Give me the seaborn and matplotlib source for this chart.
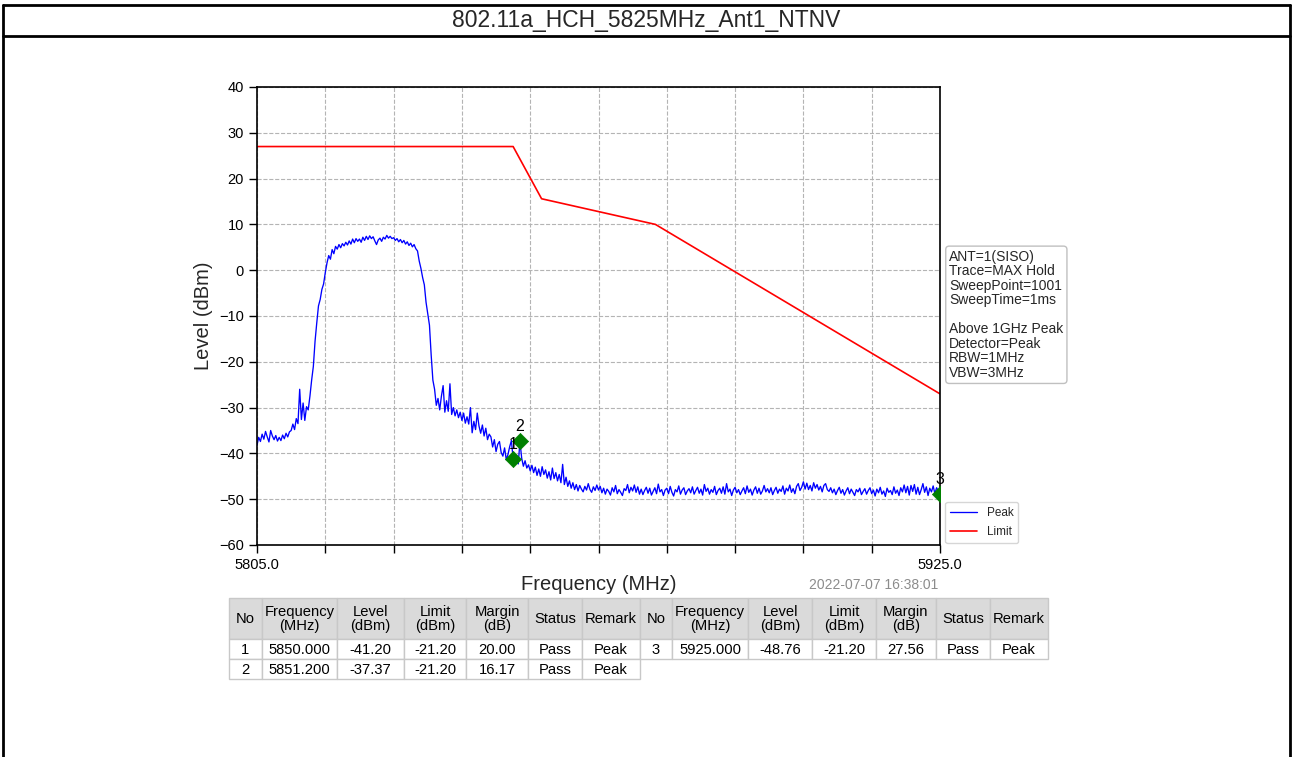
import numpy as np
import matplotlib
matplotlib.use("Agg")
import matplotlib.pyplot as plt
import seaborn as sns
from matplotlib.patches import Rectangle

# ---------------------------------------------------------------- data
title = "802.11a_HCH_5825MHz_Ant1_NTNV"
timestamp = "2022-07-07 16:38:01"

f_start, f_stop = 5805.0, 5925.0

# Max-hold peak trace, 0.3 MHz per sweep point (dBm)
peak_level = [
    -38.2, -36.5, -37.4, -35.8, -36.9, -35.2, -36.4, -37.5, -35.0, -36.2, -37.0, -36.1, -37.3, -36.5, -37.2, -36.0, -36.8, -35.6, -36.4, -35.3,
    -35.0, -33.6, -34.8, -32.4, -33.5, -26.0, -32.6, -29.0, -32.8, -29.8, -30.5, -27.5, -24.0, -21.0, -15.5, -11.5, -7.8, -6.4, -4.2, -3.0,
    -0.5, 1.6, 3.2, 2.4, 4.5, 3.6, 5.2, 4.6, 5.6, 4.9, 5.8, 5.3, 6.1, 5.5, 6.4, 5.7, 6.8, 6.0, 6.9, 6.3,
    6.8, 6.1, 7.2, 6.5, 7.4, 6.7, 7.5, 6.9, 7.3, 6.4, 5.6, 6.6, 7.0, 6.3, 7.2, 6.8, 7.6, 7.0, 7.4, 6.9,
    7.1, 6.5, 6.9, 6.2, 6.7, 6.0, 6.5, 5.7, 6.2, 5.4, 5.9, 5.1, 5.6, 4.7, 4.2, 2.0, 0.4, -1.6, -3.2, -7.0,
    -9.5, -12.0, -18.5, -24.0, -26.0, -29.5, -28.0, -30.5, -27.5, -25.2, -31.0, -28.5, -30.8, -24.8, -31.5, -30.0, -31.8, -30.5, -32.2, -31.0,
    -32.8, -31.2, -33.4, -32.0, -33.6, -30.0, -35.5, -33.0, -34.8, -31.2, -34.0, -35.6, -33.8, -36.2, -34.5, -37.0, -35.8, -36.4, -38.6, -37.0,
    -39.6, -38.0, -37.4, -39.8, -40.6, -38.8, -41.4, -40.2, -38.5, -37.2, -41.2, -42.0, -40.4, -42.3, -37.37, -41.0, -42.8, -41.6, -43.2, -42.5,
    -43.8, -42.6, -44.2, -43.0, -44.8, -43.4, -45.0, -42.9, -44.6, -43.6, -45.4, -44.0, -45.8, -43.2, -45.5, -44.2, -46.0, -44.6, -46.4, -42.4,
    -46.8, -45.2, -47.2, -46.0, -47.6, -46.4, -47.9, -46.8, -48.2, -47.0, -47.8, -48.4, -47.2, -48.0, -46.6, -47.9, -48.5, -47.3, -48.1, -46.9,
    -48.0, -47.2, -48.6, -47.6, -48.9, -47.8, -48.3, -49.1, -47.5, -48.4, -47.0, -48.8, -47.9, -48.5, -49.2, -47.7, -48.1, -46.8, -48.6, -47.4,
    -48.2, -46.9, -48.5, -47.3, -48.9, -47.8, -49.0, -48.1, -47.4, -48.7, -47.6, -49.1, -48.3, -47.5, -48.8, -46.7, -48.4, -47.9, -49.2, -48.0,
    -47.6, -48.8, -47.2, -48.5, -49.3, -47.9, -48.4, -47.1, -48.9, -48.0, -47.5, -49.0, -48.2, -47.7, -48.6, -47.3, -48.9, -48.1, -47.4, -48.7,
    -47.8, -49.1, -46.8, -48.3, -47.6, -48.9, -47.9, -48.5, -47.2, -49.0, -48.1, -47.6, -48.7, -47.3, -48.9, -46.6, -48.4, -47.8, -49.2, -48.0,
    -47.4, -48.6, -47.9, -49.0, -48.2, -47.5, -48.8, -47.1, -48.5, -47.8, -49.1, -48.0, -47.3, -48.7, -47.6, -48.9, -48.2, -47.0, -48.4, -47.7,
    -48.6, -47.5, -49.0, -48.1, -47.4, -48.7, -47.8, -48.3, -47.1, -48.9, -47.6, -48.2, -46.9, -48.5, -47.7, -48.8, -47.2, -46.6, -48.1, -47.4,
    -46.2, -47.8, -46.5, -47.9, -47.0, -48.2, -46.4, -47.6, -46.8, -48.0, -47.2, -48.4, -47.0, -46.6, -47.9, -48.3, -47.5, -48.6, -47.8, -49.0,
    -48.1, -47.4, -48.7, -47.9, -49.1, -48.2, -47.5, -48.8, -47.8, -48.5, -49.2, -47.9, -48.4, -47.6, -49.0, -48.3, -47.7, -48.9, -48.1, -47.5,
    -48.8, -48.0, -49.3, -47.8, -48.6, -47.4, -48.9, -48.2, -49.4, -47.6, -48.5, -48.1, -49.0, -47.3, -48.7, -48.0, -49.2, -47.5, -48.4, -46.9,
    -48.6, -47.2, -49.1, -47.0, -48.3, -46.8, -48.9, -47.4, -49.0, -47.9, -46.6, -48.5, -47.3, -49.2, -47.6, -48.4, -47.1, -48.8, -47.5, -48.2,
    -48.76,
]

# Emission limit mask
limit_freq = [5805.0, 5850.0, 5855.0, 5875.0, 5925.0]
limit_level = [27.0, 27.0, 15.6, 10.0, -27.0]

# Marker results
marker_no = [1, 2, 3]
marker_freq = [5850.000, 5851.200, 5925.000]
marker_level = [-41.20, -37.37, -48.76]
marker_limit = [-21.20, -21.20, -21.20]
marker_margin = [20.00, 16.17, 27.56]
marker_status = ["Pass", "Pass", "Pass"]
marker_remark = ["Peak", "Peak", "Peak"]

table_header = ["No", "Frequency\n(MHz)", "Level\n(dBm)", "Limit\n(dBm)",
                "Margin\n(dB)", "Status", "Remark"]

setup_text = ["ANT=1(SISO)", "Trace=MAX Hold", "SweepPoint=1001", "SweepTime=1ms",
              "", "Above 1GHz Peak", "Detector=Peak", "RBW=1MHz", "VBW=3MHz"]

y_ticks = [-60, -50, -40, -30, -20, -10, 0, 10, 20, 30, 40]

# ---------------------------------------------------------------- style
sns.set_theme(style="white")
plt.rcParams["font.family"] = ["Liberation Sans", "DejaVu Sans"]

W, H = 1293, 757
fig = plt.figure(figsize=(W / 100, H / 100), dpi=100, facecolor="white")

# main spectrum axes (pixel box 257..940 x 87..545)
ax = fig.add_axes([257 / W, 1 - 545 / H, (940 - 257) / W, (545 - 87) / H])

freq = np.linspace(f_start, f_stop, len(peak_level))
sns.lineplot(x=freq, y=peak_level, ax=ax, color="blue", linewidth=0.95,
             label="Peak", estimator=None, sort=False)
sns.lineplot(x=limit_freq, y=limit_level, ax=ax, color="red", linewidth=1.2,
             label="Limit", estimator=None, sort=False)
sns.scatterplot(x=marker_freq, y=marker_level, ax=ax, marker="D", s=68,
                color="green", edgecolor="green", linewidth=0.5, zorder=5,
                legend=False)
for n, fx, lv in zip(marker_no, marker_freq, marker_level):
    ax.annotate(str(n), (fx, lv), xytext=(0, 5), textcoords="offset points",
                ha="center", va="bottom", fontsize=11.5, color="black", zorder=6)

ax.set_xlim(f_start, f_stop)
ax.set_ylim(-60, 40)
x_ticks = np.linspace(f_start, f_stop, 11)
ax.set_xticks(x_ticks)
ax.set_xticklabels([f"{t:.1f}" if i in (0, len(x_ticks) - 1) else ""
                    for i, t in enumerate(x_ticks)])
ax.set_yticks(y_ticks)
ax.tick_params(axis="both", direction="out", length=6, width=1.0,
               labelsize=10.5, colors="black", bottom=True, left=True)
ax.grid(True, linestyle="--", color="#b4b4b4", linewidth=0.8)
for sp in ax.spines.values():
    sp.set_color("black")
    sp.set_linewidth(1.2)

ax.set_xlabel("Frequency (MHz)", fontsize=14.5)
ax.set_ylabel("Level (dBm)", fontsize=14.5)
ax.xaxis.set_label_coords(0.5, -0.065)
ax.yaxis.set_label_coords(-0.065, 0.5)

leg = ax.legend(loc="lower left", bbox_to_anchor=(1.008, 0.004),
                borderaxespad=0, fontsize=8.5, frameon=True, handlelength=2.3,
                labelspacing=0.65, fancybox=True)
leg.get_frame().set_edgecolor("#cccccc")
leg.get_frame().set_linewidth(1.0)

ax.text(1.0135, 0.645, "\n".join(setup_text), transform=ax.transAxes,
        ha="left", va="top", fontsize=10, linespacing=1.05,
        bbox=dict(boxstyle="round,pad=0.25", fc="white", ec="#c0c0c0", lw=1.0))

# ---------------------------------------------------------------- frame, title, table (pixel overlay)
ov = fig.add_axes([0, 0, 1, 1], zorder=-1)
ov.set_xlim(0, W)
ov.set_ylim(H, 0)
ov.axis("off")

ov.plot([3, 1290], [5, 5], color="black", lw=2.0)
ov.plot([3, 1290], [36, 36], color="black", lw=2.0)
ov.plot([3, 3], [5, H], color="black", lw=2.0)
ov.plot([1290, 1290], [5, H], color="black", lw=2.0)
ov.text(W / 2, 21, title, ha="center", va="center", fontsize=16.5)

fig.text(938 / W, 1 - 585 / H, timestamp, ha="right", va="center",
         fontsize=10, color="#8c8c8c")

col_edges = [229, 262, 337, 404, 466, 528, 582, 640,
             672, 748, 812, 876, 936, 990, 1048]
row_edges = [598, 639, 659, 679]
grid_c = "#c8c8c8"
head_c = "#dadada"

rows = []
for i in range(len(marker_no)):
    rows.append([str(marker_no[i]), f"{marker_freq[i]:.3f}", f"{marker_level[i]:.2f}",
                 f"{marker_limit[i]:.2f}", f"{marker_margin[i]:.2f}",
                 marker_status[i], marker_remark[i]])

ncol = len(table_header)
n_left = (len(rows) + 1) // 2

def cell(c0, r0, text, fc):
    x0, x1 = col_edges[c0], col_edges[c0 + 1]
    y0, y1 = row_edges[r0], row_edges[r0 + 1]
    ov.add_patch(Rectangle((x0, y0), x1 - x0, y1 - y0, fc=fc, ec=grid_c, lw=1.0))
    ov.text((x0 + x1) / 2, (y0 + y1) / 2 + 0.5, text, ha="center", va="center",
            fontsize=10.6, linespacing=1.0, color="black")

for block in range(2):
    for c, h in enumerate(table_header):
        cell(block * ncol + c, 0, h, head_c)
for i, row in enumerate(rows):
    block = 0 if i < n_left else 1
    r = (i if i < n_left else i - n_left) + 1
    for c, v in enumerate(row):
        cell(block * ncol + c, r, v, "white")

fig.savefig("out.png", dpi=100, facecolor="white")
